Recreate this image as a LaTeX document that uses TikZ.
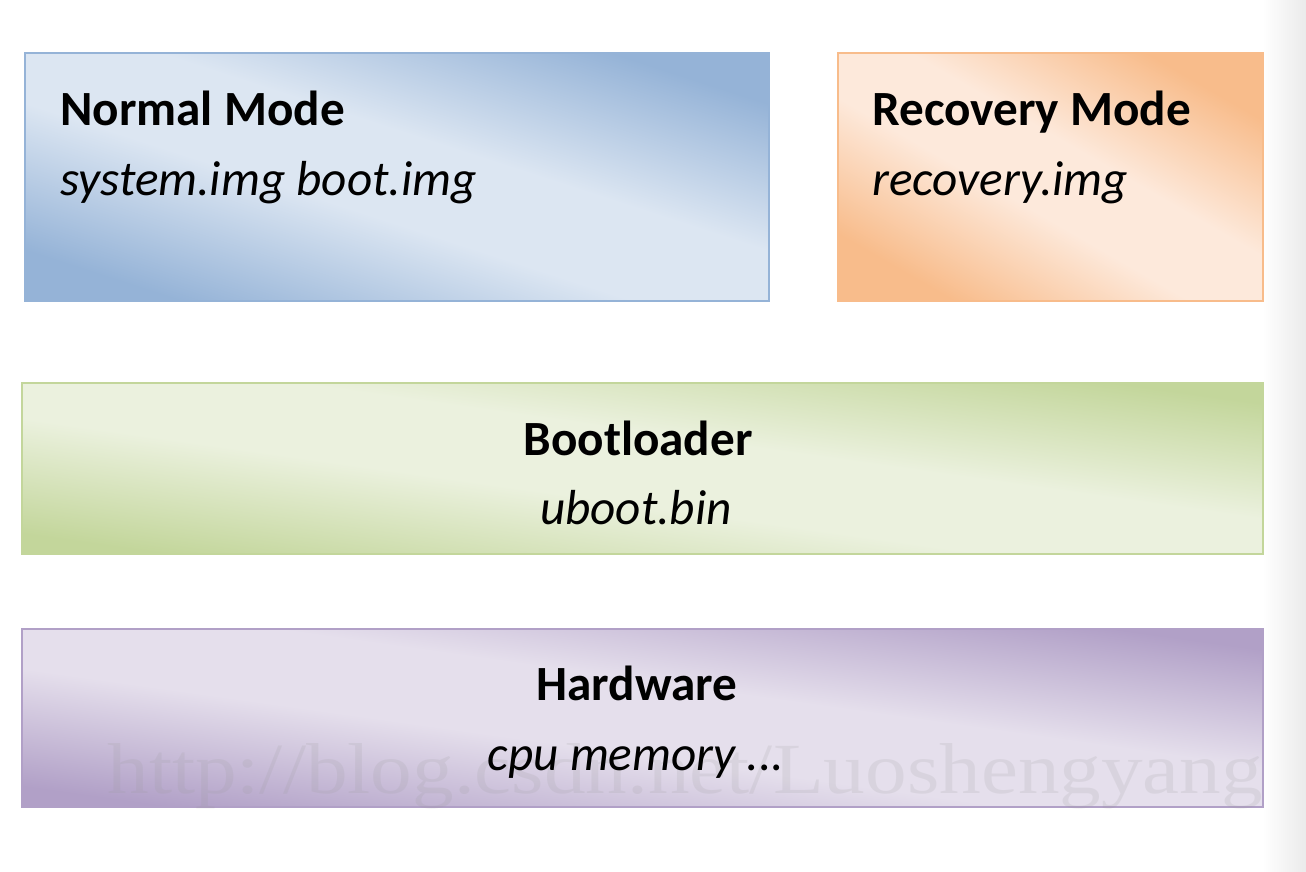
\documentclass[tikz,border=0pt]{standalone}
\usepackage{fontspec}
\setmainfont{Carlito}
\newfontfamily\markfont{Liberation Serif}
\definecolor{normaldk}{HTML}{95B3D7}
\definecolor{normallt}{HTML}{DCE6F2}
\definecolor{recoverydk}{HTML}{F8BC8B}
\definecolor{recoverylt}{HTML}{FDE9DB}
\definecolor{bootdk}{HTML}{C3D69B}
\definecolor{bootlt}{HTML}{EBF1DE}
\definecolor{harddk}{HTML}{B1A0C7}
\definecolor{hardlt}{HTML}{E5DFEC}
\colorlet{layerdk}{normaldk}
\colorlet{layerlt}{normallt}
\pgfdeclareverticalshading[layerdk,layerlt]{layershade}{100bp}{color(0bp)=(layerdk); color(25bp)=(layerdk); color(44bp)=(layerlt); color(56bp)=(layerlt); color(75bp)=(layerdk); color(100bp)=(layerdk)}
\tikzset{
  layer/.style n args={2}{/utils/exec={\colorlet{layerdk}{#1dk}\colorlet{layerlt}{#1lt}},
    draw=#1dk, line width=1.1pt, shade, shading=layershade, shading angle=#2,
    anchor=north west, inner sep=0pt},
  title/.style={font=\bfseries\fontsize{28}{34}\selectfont, inner sep=0pt},
  sub/.style={font=\itshape\fontsize{28}{34}\selectfont, inner sep=0pt},
}
\begin{document}
\begin{tikzpicture}[x=0.02cm,y=-0.02cm]
  \useasboundingbox (0,0) rectangle (1306,872);
  \shade[left color=white, right color=black!8] (1262,0) rectangle (1306,872);
  % layers
  \node[layer={normal}{-18}, minimum width=14.88cm, minimum height=4.96cm] (normal) at (24,52) {};
  \node[layer={recovery}{-30}, minimum width=8.5cm, minimum height=4.96cm] (recovery) at (837,52) {};
  \node[layer={boot}{-8}, minimum width=24.82cm, minimum height=3.42cm] (boot) at (21,382) {};
  \node[layer={hard}{-8}, minimum width=24.82cm, minimum height=3.56cm] (hard) at (21,628) {};
  % watermark
  \node[font=\markfont\fontsize{41}{48}\selectfont, text=black!40, opacity=0.16,
    anchor=base west, inner sep=0pt, xscale=1.155] (mark) at (107,793) {http://blog.csdn.net/Luoshengyang};
  % texts
  \node[title, anchor=base west] (normaltitle) at (60,125) {Normal Mode};
  \node[sub, anchor=base west] (normalimg) at (60,195) {system.img boot.img};
  \node[title, anchor=base west] (recoverytitle) at (872,125) {Recovery Mode};
  \node[sub, anchor=base west] (recoveryimg) at (872,195) {recovery.img};
  \node[title, anchor=base] (boottitle) at (638,455) {Bootloader};
  \node[sub, anchor=base] (bootimg) at (636,524) {uboot.bin};
  \node[title, anchor=base] (hardtitle) at (637,700) {Hardware};
  \node[sub, anchor=base] (hardimg) at (636,770) {cpu memory ...};
\end{tikzpicture}
\end{document}
